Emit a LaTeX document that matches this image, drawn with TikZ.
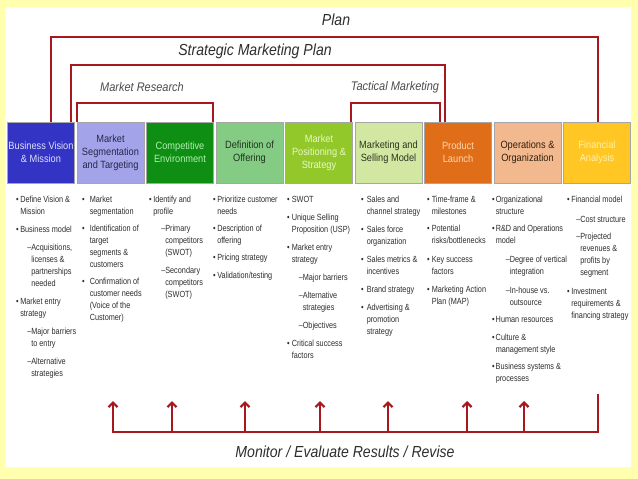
\documentclass[tikz,border=0pt]{standalone}
\usepackage{fontspec}
\setmainfont{Liberation Sans}[FakeStretch=0.88]
\newfontfamily\colfam{Liberation Sans}[FakeStretch=0.82]
\usetikzlibrary{arrows.meta}
\definecolor{bgyellow}{HTML}{FFFFAE}
\definecolor{bracketred}{HTML}{A8161E}
\definecolor{txtgray}{HTML}{2E2E2E}
\definecolor{cA}{HTML}{3434C4}\definecolor{tA}{HTML}{E0E0FF}
\definecolor{cB}{HTML}{A3A3EA}\definecolor{tB}{HTML}{26264A}
\definecolor{cC}{HTML}{0E8E12}\definecolor{tC}{HTML}{B4F0B4}
\definecolor{cD}{HTML}{84CC84}\definecolor{tD}{HTML}{1E321E}
\definecolor{cE}{HTML}{92C82A}\definecolor{tE}{HTML}{EAF8C8}
\definecolor{cF}{HTML}{D2E8A2}\definecolor{tF}{HTML}{2E3220}
\definecolor{cG}{HTML}{E06E18}\definecolor{tG}{HTML}{FFD6AE}
\definecolor{cH}{HTML}{F2B88E}\definecolor{tH}{HTML}{32200E}
\definecolor{cI}{HTML}{FFC624}\definecolor{tI}{HTML}{FFF2A8}
\newcommand{\bl}{\textbullet}
\newcommand{\sbi}[2][7pt]{\hspace{#1}#2}
\newcommand{\sbc}[2][7pt]{\hspace{#1}\phantom{–}#2}
\newcommand{\colfont}{\colfam\fontsize{8.9}{12}\selectfont}
\tikzset{
  headbox/.style={draw=black!35, line width=0.6pt, minimum width=67pt, minimum height=61pt,
    inner sep=0pt, align=center, font=\fontsize{10.5}{13}\selectfont},
  coltext/.style={anchor=north west, inner sep=0pt, text=txtgray, font=\colfont},
  redline/.style={draw=bracketred, line width=2.6pt},
  uparrow/.style={draw=bracketred, line width=2.2pt, -{Straight Barb[length=4.5pt,width=9pt]}},
  bigtitle/.style={text=txtgray, font=\fontsize{16}{18}\selectfont\itshape},
  midtitle/.style={text=black!70, font=\fontsize{12.5}{14}\selectfont\itshape}
}
\begin{document}
\begin{tikzpicture}[x=1pt,y=-1pt]
\useasboundingbox (0,0) rectangle (638,479);
\fill[bgyellow] (0,0) rectangle (638,479);
\fill[white] (5,7) rectangle (631,467);

% header boxes
\node[headbox, fill=cA, text=tA] (b1) at (41,152.5) {Business Vision\\\& Mission};
\node[headbox, fill=cB, text=tB] (b2) at (110.5,152.5) {Market\\Segmentation\\and Targeting};
\node[headbox, fill=cC, text=tC] (b3) at (180,152.5) {Competitive\\Environment};
\node[headbox, fill=cD, text=tD] (b4) at (249.5,152.5) {Definition of\\Offering};
\node[headbox, fill=cE, text=tE] (b5) at (319,152.5) {Market\\Positioning \&\\Strategy};
\node[headbox, fill=cF, text=tF] (b6) at (388.5,152.5) {Marketing and\\Selling Model};
\node[headbox, fill=cG, text=tG] (b7) at (458,152.5) {Product\\Launch};
\node[headbox, fill=cH, text=tH] (b8) at (527.5,152.5) {Operations \&\\Organization};
\node[headbox, fill=cI, text=tI] (b9) at (597,152.5) {Financial\\Analysis};

% titles
\node[bigtitle] (tplan) at (336,20) {Plan};
\node[bigtitle] (tsmp) at (255,51) {Strategic Marketing Plan};
\node[midtitle] (tmr) at (142,87) {Market Research};
\node[midtitle] (ttm) at (395,87) {Tactical Marketing};
\node[bigtitle] (tmon) at (345,452) {Monitor / Evaluate Results / Revise};

% brackets
\coordinate (pl1) at (51,37);  \coordinate (pl2) at (598,37);
\coordinate (sm1) at (71,65);  \coordinate (sm2) at (445,65);
\coordinate (mr1) at (77,103); \coordinate (mr2) at (213,103);
\coordinate (tm1) at (351,103);\coordinate (tm2) at (440,103);
\draw[redline] (pl1 |- b1.north) -- (pl1) -- (pl2) -- (pl2 |- b9.north);
\draw[redline] (sm1 |- b1.north) -- (sm1) -- (sm2) -- (sm2 |- b7.north);
\draw[redline] (mr1 |- b2.north) -- (mr1) -- (mr2) -- (mr2 |- b3.north);
\draw[redline] (tm1 |- b5.north) -- (tm1) -- (tm2) -- (tm2 |- b7.north);

% feedback line
\coordinate (fl) at (113,432); \coordinate (fr) at (598,432); \coordinate (ftop) at (598,394);
\draw[redline] (fl) -- (fr) -- (ftop);
\foreach \n/\x in {a1/113,a2/172,a3/245,a4/320,a5/388,a6/467,a7/524}{
  \coordinate (\n s) at (\x,433.3);
  \coordinate (\n t) at (\x,401);
  \draw[uparrow] (\n s) -- (\n t);
}

% column texts
\node[coltext] (c1) at (16,194) {\begin{tabular}{@{}l@{\hspace{1.5pt}}l@{}}
\bl & Define Vision \& \\
 & Mission \\[6pt]
\bl & Business model \\[6pt]
 & \sbi{–Acquisitions,} \\
 & \sbc{licenses \&} \\
 & \sbc{partnerships} \\
 & \sbc{needed} \\[6pt]
\bl & Market entry \\
 & strategy \\[6pt]
 & \sbi{–Major barriers} \\
 & \sbc{to entry} \\[6pt]
 & \sbi{–Alternative} \\
 & \sbc{strategies}
\end{tabular}};

\node[coltext] (c2) at (82,194) {\begin{tabular}{@{}l@{\hspace{5pt}}l@{}}
\bl & Market \\
 & segmentation \\[5pt]
\bl & Identification of \\
 & target \\
 & segments \& \\
 & customers \\[5pt]
\bl & Confirmation of \\
 & customer needs \\
 & (Voice of the \\
 & Customer)
\end{tabular}};

\node[coltext] (c3) at (149,194) {\begin{tabular}{@{}l@{\hspace{1.5pt}}l@{}}
\bl & Identify and \\
 & profile \\[5pt]
 & \sbi[8pt]{–Primary} \\
 & \sbc[8pt]{competitors} \\
 & \sbc[8pt]{(SWOT)} \\[6pt]
 & \sbi[8pt]{–Secondary} \\
 & \sbc[8pt]{competitors} \\
 & \sbc[8pt]{(SWOT)}
\end{tabular}};

\node[coltext] (c4) at (213,194) {\begin{tabular}{@{}l@{\hspace{1.5pt}}l@{}}
\bl & Prioritize customer \\
 & needs \\[5pt]
\bl & Description of \\
 & offering \\[5pt]
\bl & Pricing strategy \\[6pt]
\bl & Validation/testing
\end{tabular}};

\node[coltext] (c5) at (287,194) {\begin{tabular}{@{}l@{\hspace{2pt}}l@{}}
\bl & SWOT \\[6pt]
\bl & Unique Selling \\
 & Proposition (USP) \\[6pt]
\bl & Market entry \\
 & strategy \\[6pt]
 & \sbi{–Major barriers} \\[6pt]
 & \sbi{–Alternative} \\
 & \sbc{strategies} \\[6pt]
 & \sbi{–Objectives} \\[6pt]
\bl & Critical success \\
 & factors
\end{tabular}};

\node[coltext] (c6) at (361,194) {\begin{tabular}{@{}l@{\hspace{3pt}}l@{}}
\bl & Sales and \\
 & channel strategy \\[6pt]
\bl & Sales force \\
 & organization \\[6pt]
\bl & Sales metrics \& \\
 & incentives \\[6pt]
\bl & Brand strategy \\[6pt]
\bl & Advertising \& \\
 & promotion \\
 & strategy
\end{tabular}};

\node[coltext] (c7) at (427,194) {\begin{tabular}{@{}l@{\hspace{2pt}}l@{}}
\bl & Time-frame \& \\
 & milestones \\[5pt]
\bl & Potential \\
 & risks/bottlenecks \\[7pt]
\bl & Key success \\
 & factors \\[6pt]
\bl & Marketing Action \\
 & Plan (MAP)
\end{tabular}};

\node[coltext] (c8) at (492,194) {\begin{tabular}{@{}l@{\hspace{1pt}}l@{}}
\bl & Organizational \\
 & structure \\[5pt]
\bl & R\&D and Operations \\
 & model \\[7pt]
 & \sbi[10pt]{–Degree of vertical} \\
 & \sbc[10pt]{integration} \\[7pt]
 & \sbi[10pt]{–In-house vs.} \\
 & \sbc[10pt]{outsource} \\[5pt]
\bl & Human resources \\[6pt]
\bl & Culture \& \\
 & management style \\[5pt]
\bl & Business systems \& \\
 & processes
\end{tabular}};

\node[coltext] (c9) at (567,194) {\begin{tabular}{@{}l@{\hspace{1.5pt}}l@{}}
\bl & Financial model \\[8pt]
 & \sbi[5pt]{–Cost structure} \\[5pt]
 & \sbi[5pt]{–Projected} \\
 & \sbc[5pt]{revenues \&} \\
 & \sbc[5pt]{profits by} \\
 & \sbc[5pt]{segment} \\[7pt]
\bl & Investment \\
 & requirements \& \\
 & financing strategy
\end{tabular}};
\end{tikzpicture}
\end{document}
